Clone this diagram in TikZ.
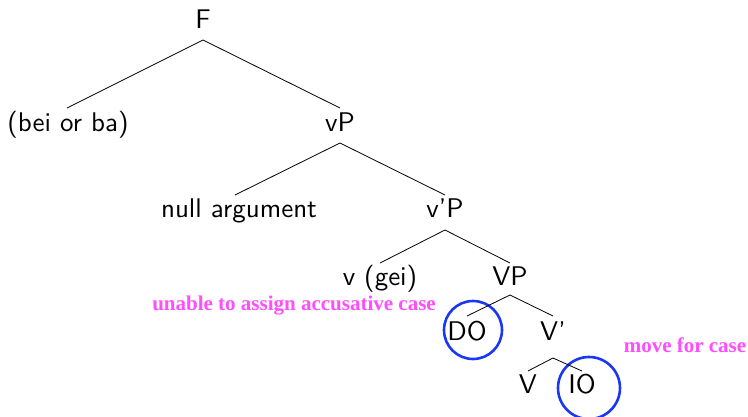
\documentclass[tikz,border=0pt]{standalone}
\usepackage{fontspec}
\newfontfamily\annfont{Liberation Serif}
\newfontfamily\labfont{lmsans10-regular.otf}
\usetikzlibrary{calc}
\definecolor{annmag}{RGB}{255,77,255}
\definecolor{circblue}{RGB}{25,55,245}
\begin{document}
\begin{tikzpicture}[x=1pt,y=-1pt,
  lab/.style={anchor=base,inner sep=0pt,font=\labfont\fontsize{27}{31}\selectfont},
  ann/.style={anchor=base,inner sep=0pt,text=annmag,font=\annfont\bfseries\fontsize{21}{25}\selectfont},
  edge/.style={draw=black,line width=0.8pt},
  ring/.style={draw=circblue,line width=2.6pt}]
\useasboundingbox (0,0) rectangle (748,416);
\node[lab] (F) at (203,28) {F};
\node[lab] (bei) at (68,131) {(bei or ba)};
\node[lab] (vP) at (340,131) {vP};
\node[lab] (null) at (239,217) {null argument};
\node[lab] (vbP) at (445,217) {v’P};
\node[lab] (v) at (380,285) {v (gei)};
\node[lab] (VP) at (510,285) {VP};
\node[lab] (DO) at (467,340) {DO};
\node[lab] (Vb) at (553,340) {V’};
\node[lab] (V) at (528,393) {V};
\node[lab] (IO) at (582,393) {IO};
\node[ann] (unable) at (294,310) {unable to assign accusative case};
\node[ann] (move) at (685,352) {move for case};
\node[ring,circle,minimum size=58pt,inner sep=0pt] (c1) at (473,330) {};
\node[ring,circle,minimum size=62pt,inner sep=0pt] (c2) at (589,388) {};
\draw[edge] ([shift={(-1pt,23pt)}]bei.base) -- ([yshift=-12pt]F.base) -- ([yshift=23pt]vP.base);
\draw[edge] ([shift={(-4pt,22pt)}]null.base) -- ([yshift=-12pt]vP.base) -- ([yshift=22pt]vbP.base);
\draw[edge] ([yshift=22pt]v.base) -- ([yshift=-13pt]vbP.base) -- ([yshift=22pt]VP.base);
\draw[edge] ([yshift=24pt]DO.base) -- ([yshift=-10pt]VP.base) -- ([yshift=24pt]Vb.base);
\draw[edge] ([yshift=22pt]V.base) -- ([yshift=-18pt]Vb.base) -- ([yshift=22pt]IO.base);
\end{tikzpicture}
\end{document}
